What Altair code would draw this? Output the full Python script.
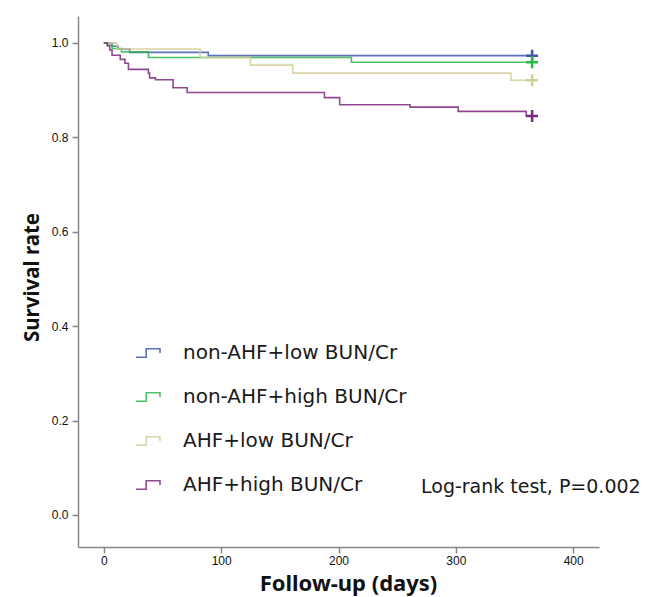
import altair as alt
import pandas as pd

groups = ["non-AHF+low BUN/Cr", "non-AHF+high BUN/Cr", "AHF+low BUN/Cr", "AHF+high BUN/Cr"]
colors = ["#3E58AC", "#2EB848", "#D3CE97", "#7C287D"]

# step times (days) and survival values, last point = end of follow-up
blue_t = [0, 7, 12, 22, 89, 365]
blue_s = [1.0, 0.993, 0.987, 0.980, 0.973, 0.973]

green_t = [0, 3, 7, 15, 38, 211, 365]
green_s = [1.0, 0.995, 0.988, 0.981, 0.969, 0.959, 0.959]

yellow_t = [0, 11, 82, 125, 161, 347, 365]
yellow_s = [1.0, 0.987, 0.969, 0.953, 0.936, 0.921, 0.921]

purple_t = [0, 3, 5, 7, 14, 18, 21, 38, 39, 44, 59, 71, 188, 201, 261, 302, 360, 365]
purple_s = [1.0, 0.994, 0.985, 0.974, 0.965, 0.957, 0.944, 0.936, 0.926, 0.922,
            0.905, 0.895, 0.884, 0.869, 0.864, 0.855, 0.845, 0.845]

censor_t = [365, 365, 365, 365]
censor_s = [0.973, 0.959, 0.921, 0.845]

rows = []
for g, ts, ss in zip(groups, [blue_t, green_t, yellow_t, purple_t], [blue_s, green_s, yellow_s, purple_s]):
    for i, (t, s) in enumerate(zip(ts, ss)):
        rows.append({"group": g, "t": t, "s": s, "order": i})
df = pd.DataFrame(rows)
cdf = pd.DataFrame({"group": groups, "t": censor_t, "s": censor_s})

color_scale = alt.Scale(domain=groups, range=colors)
xs = alt.Scale(domain=[-22, 422], nice=False, zero=False)
ys = alt.Scale(domain=[-0.068, 1.057], nice=False, zero=False)

step_path = "M-1,0.35H-0.15V-0.35H1V0"

lines = alt.Chart(df).mark_line(interpolate="step-after", strokeWidth=1.6, opacity=0.85).encode(
    x=alt.X("t:Q", scale=xs,
            axis=alt.Axis(values=[0, 100, 200, 300, 400], title="Follow-up (days)", grid=False,
                          titleFontSize=22, titleFont="Noto Sans", titleFontWeight="bold",
                          labelPadding=2, titlePadding=7, titleX=270)),
    y=alt.Y("s:Q", scale=ys,
            axis=alt.Axis(values=[0, 0.2, 0.4, 0.6, 0.8, 1.0], format=".1f", title="Survival rate",
                          grid=False, titleFontSize=20.5, titleFont="Noto Sans", titleFontWeight="bold",
                          labelPadding=4, titlePadding=9, titleY=261)),
    color=alt.Color("group:N", scale=color_scale, sort=groups,
                    legend=alt.Legend(title=None, orient="none", legendX=57, legendY=324,
                                      symbolType=step_path, symbolSize=576, symbolStrokeWidth=1.6,
                                      labelFontSize=20, labelFont="DejaVu Sans", labelColor="#1a1a1a",
                                      labelOffset=22, rowPadding=21, labelLimit=400)),
    order="order:Q",
)

crosses = alt.Chart(cdf).mark_point(shape="M-1,0H1M0,-1V1", size=144, strokeWidth=2.5, opacity=1).encode(
    x=alt.X("t:Q", scale=xs),
    y=alt.Y("s:Q", scale=ys),
    color=alt.Color("group:N", scale=color_scale, sort=groups),
)

note = alt.Chart(pd.DataFrame({"label": ["Log-rank test, P=0.002"]})).mark_text(
    align="left", baseline="middle", fontSize=19, font="DejaVu Sans", color="#1a1a1a"
).encode(x=alt.value(343), y=alt.value(471), text="label:N")

chart = alt.layer(lines, crosses, note).properties(width=521, height=531).configure_view(
    stroke=None
).configure_axis(
    domainColor="#888888", domainWidth=1.5, tickColor="#888888", tickWidth=1.5, tickSize=6,
    labelFont="Liberation Sans", labelFontSize=12, labelColor="#111111",
    titleColor="#111111"
).properties(padding={"left": 14, "top": 8, "right": 5, "bottom": 5})

chart.save("out.html", embed_options={"renderer": "svg", "actions": False})
